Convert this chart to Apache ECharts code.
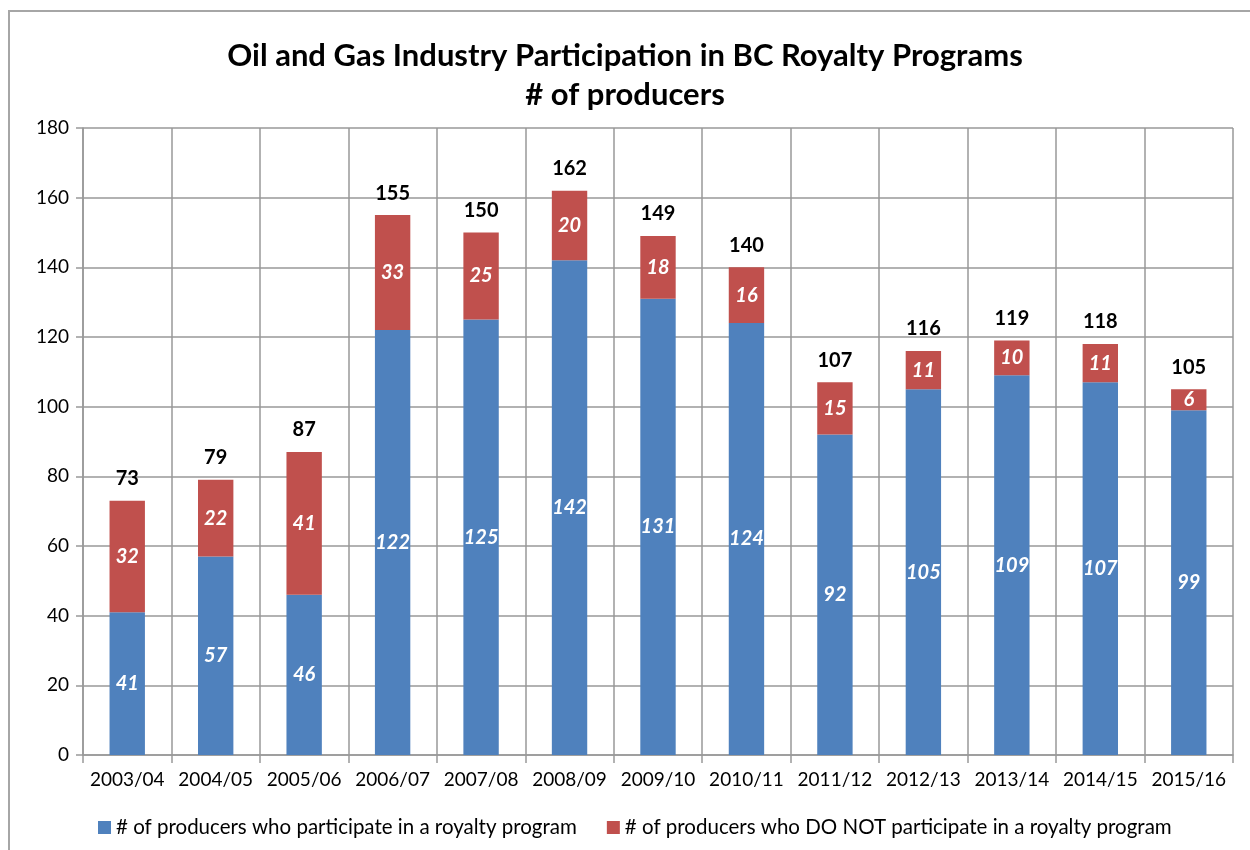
<!DOCTYPE html>
<html>
<head>
<meta charset="utf-8">
<script src="https://cdn.jsdelivr.net/npm/echarts@6/dist/echarts.min.js"></script>
<style>
html,body{margin:0;padding:0;background:#fff;}
#frame{position:absolute;left:8px;top:10px;width:1260px;height:860px;border-left:2px solid #a6a6a6;border-top:2px solid #a6a6a6;}
#chart{position:absolute;left:0;top:0;width:1250px;height:850px;}
</style>
</head>
<body>
<div id="frame"></div>
<div id="chart"></div>
<script>
const categories = ['2003/04','2004/05','2005/06','2006/07','2007/08','2008/09','2009/10','2010/11','2011/12','2012/13','2013/14','2014/15','2015/16'];
const participate = [41,57,46,122,125,142,131,124,92,105,109,107,99];
const notParticipate = [32,22,41,33,25,20,18,16,15,11,10,11,6];
const totals = [73,79,87,155,150,162,149,140,107,116,119,118,105];
const yTicks = [0,20,40,60,80,100,120,140,160,180];
const seriesNames = ['# of producers who participate in a royalty program','# of producers who DO NOT participate in a royalty program'];

const font = 'Lato, "Open Sans", "Liberation Sans", sans-serif';
const chart = echarts.init(document.getElementById('chart'), null, {renderer:'canvas'});
const innerLabel = {show:true, position:'inside', color:'#fff', fontWeight:'bold', fontStyle:'italic', fontSize:20, fontFamily:font};
chart.setOption({
  backgroundColor:'transparent',
  animation:false,
  title:{
    text:'Oil and Gas Industry Participation in BC Royalty Programs\n# of producers',
    left:'center', top:31,
    textStyle:{fontFamily:font, fontSize:31, fontWeight:'bold', color:'#000', lineHeight:39}
  },
  legend:{
    bottom:7, left:93, itemWidth:13, itemHeight:13, itemGap:30,
    icon:'rect',
    textStyle:{fontFamily:font, fontSize:20.5, color:'#000'},
    data:seriesNames
  },
  grid:{left:83, right:17, top:128, bottom:95},
  xAxis:{
    type:'category', data:categories,
    axisLine:{lineStyle:{color:'#999', width:1.5}},
    axisTick:{show:true, interval:0, length:8, lineStyle:{color:'#999', width:1.5}},
    splitLine:{show:true, interval:0, lineStyle:{color:'#999', width:1.5}},
    axisLabel:{interval:0, fontFamily:font, fontSize:19, color:'#000', margin:15}
  },
  yAxis:{
    type:'value', min:yTicks[0], max:yTicks[yTicks.length-1], interval:20,
    axisLine:{show:true, lineStyle:{color:'#999', width:1.5}},
    axisTick:{show:true, length:7, lineStyle:{color:'#999', width:1.5}},
    splitLine:{show:true, lineStyle:{color:'#999', width:1.5}},
    axisLabel:{fontFamily:font, fontSize:19, color:'#000', margin:14}
  },
  series:[
    {name:seriesNames[0], type:'bar', stack:'a', data:participate, barWidth:'40%',
     itemStyle:{color:'#4F81BD'}, label:innerLabel},
    {name:seriesNames[1], type:'bar', stack:'a', data:notParticipate,
     itemStyle:{color:'#C0504D'}, label:innerLabel},
    {name:'total', type:'bar', stack:'a', data:totals.map(()=>0), silent:true,
     itemStyle:{color:'transparent'},
     label:{show:true, position:'top', distance:12, color:'#000', fontWeight:'bold', fontSize:20, fontFamily:font,
            formatter:(p)=>String(totals[p.dataIndex])}}
  ]
});
</script>
</body>
</html>
